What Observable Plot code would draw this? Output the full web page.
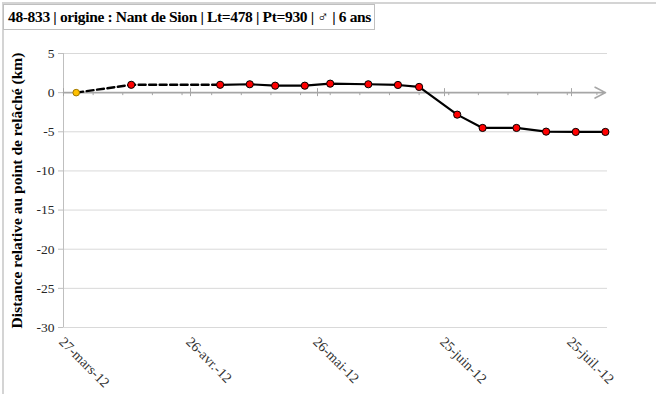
<!DOCTYPE html>
<html><head><meta charset="utf-8">
<script src="https://cdn.jsdelivr.net/npm/d3@7"></script>
<script src="https://cdn.jsdelivr.net/npm/@observablehq/plot@0.6"></script>
<style>
body{margin:0;background:#fff;}
#wrap{position:relative;width:656px;height:394px;overflow:hidden;background:#fff;}
#frame{position:absolute;left:2px;top:2px;width:660px;height:400px;border-top:2px solid #d4d4d4;border-left:2px solid #d4d4d4;box-sizing:border-box;}
#title{position:absolute;left:3px;top:4px;height:26px;box-sizing:border-box;border:1px solid #bfbfbf;background:#fff;padding:0 3px 0 4px;font:bold 15.5px "Liberation Serif","Times New Roman",serif;letter-spacing:-0.35px;line-height:24px;color:#000;white-space:nowrap;}
#chart{position:absolute;left:0;top:0;}
#chart svg text{font-family:"Liberation Serif","Times New Roman",serif;}
</style></head>
<body>
<div id="wrap"><div id="frame"></div><div id="chart"></div><div id="title"></div></div>
<script>
const titleText = "48-833 | origine : Nant de Sion | Lt=478 | Pt=930 | ♂ | 6 ans";
const yTitle = "Distance relative au point de relâché (km)";
const dates = ["2012-03-30","2012-04-12","2012-05-03","2012-05-10","2012-05-16","2012-05-23","2012-05-29","2012-06-07","2012-06-14","2012-06-19","2012-06-28","2012-07-04","2012-07-12","2012-07-19","2012-07-26","2012-08-02"];
const distances = [0, 1.0, 1.0, 1.07, 0.89, 0.89, 1.15, 1.07, 0.98, 0.73, -2.81, -4.51, -4.51, -4.98, -5.02, -5.02];
const dashedCount = 3; // first segment (release to 3 mai) is dashed
const tickDates = ["2012-03-27","2012-04-26","2012-05-26","2012-06-25","2012-07-25"];
const tickLabels = ["27-mars-12","26-avr.-12","26-mai-12","25-juin-12","25-juil.-12"];
const yTicks = [5,0,-5,-10,-15,-20,-25,-30];
const xDomain = ["2012-03-27","2012-08-02T12:00"];
const yDomain = [-30, 5];

document.getElementById("title").textContent = titleText;

const data = dates.map((d,i)=>({date:new Date(d), dist:distances[i], i}));
const xd = xDomain.map(d=>new Date(d));
const majors = tickDates.map(d=>new Date(d));
const minors = d3.utcDay.range(xd[0], xd[1], 1).filter((d,i)=>i%7===0 && i>0);
const grid = yTicks.filter(v=>v!==0);

const chart = Plot.plot({
  width: 656, height: 394,
  marginLeft: 63, marginRight: 49, marginTop: 53, marginBottom: 67,
  style: {background:"transparent", fontFamily:"Liberation Serif", fontSize:"13.5px", color:"#262626"},
  x: {type:"utc", domain: xd},
  y: {domain: yDomain},
  marks: [
    Plot.ruleY(grid, {stroke:"#d9d9d9", strokeWidth:1}),
    Plot.ruleX([xd[0]], {stroke:"#bfbfbf", strokeWidth:1}),
    Plot.axisY({ticks: yTicks, tickSize:5, tickPadding:4, stroke:"#bfbfbf", tickFormat:d=>String(d), label:null, fill:"#262626", fontSize:13.5}),
    Plot.axisX({ticks: majors, tickSize:0, tickPadding:12, tickRotate:45, label:null, fill:"#333", fontSize:14, dx:-2,
      tickFormat: d => tickLabels[majors.findIndex(t=>+t===+d)]}),
    Plot.arrow([0], {x1:()=>xd[0], x2:()=>xd[1], y1:()=>0, y2:()=>0, stroke:"#a6a6a6", strokeWidth:1.6, headLength:11, headAngle:55, insetEnd:2, bend:0}),
    Plot.ruleX(minors, {x:d=>d, y1:()=>0, y2:()=>0, insetBottom:-3, stroke:"#a6a6a6"}),
    Plot.ruleX(majors, {x:d=>d, y1:()=>0, y2:()=>0, insetTop:-4, insetBottom:-4, stroke:"#a6a6a6"}),
    Plot.line(data.slice(0, dashedCount), {x:"date", y:"dist", stroke:"#000", strokeWidth:2.4, strokeDasharray:"7,3.5"}),
    Plot.line(data.slice(dashedCount-1), {x:"date", y:"dist", stroke:"#000", strokeWidth:2.2}),
    Plot.dot(data.slice(1), {x:"date", y:"dist", r:3.6, fill:"#ff0000", stroke:"#000", strokeWidth:1}),
    Plot.dot(data.slice(0,1), {x:"date", y:"dist", r:3.3, fill:"#ffc000", stroke:"#a07800", strokeWidth:1}),
    Plot.text([yTitle], {text:d=>d, frameAnchor:"left", textAnchor:"middle", dx:-46, rotate:-90, fontWeight:"bold", fontSize:15.5, fill:"#000"})
  ]
});
document.getElementById("chart").appendChild(chart);
</script>
</body></html>
